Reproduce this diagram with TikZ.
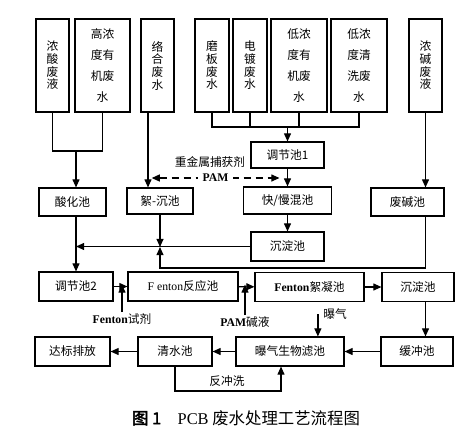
\documentclass[tikz,border=0pt]{standalone}
\usepackage{fontspec}
\setmainfont{Liberation Serif}
\newfontfamily\cjk{Noto Sans CJK SC}
\newfontfamily\cjkheavy[FakeBold=2.5]{Noto Sans CJK SC}
\usetikzlibrary{arrows.meta}
\tikzset{pool/.style = {draw, line width = 0.9pt, inner sep = 0,
                        font = \cjk\fontsize{10}{12}\selectfont}}
\tikzset{tall/.style = {pool, align = center, font = \cjk\fontsize{10}{10.8}\selectfont}}
\tikzset{wide/.style = {pool, align = center, font = \cjk\fontsize{10}{18}\selectfont}}
\tikzset{sz/.style 2 args = {minimum width = #1*0.3mm, minimum height = #2*0.3mm}}
\tikzset{wire/.style = {line width = 1.1pt}}
\tikzset{flow/.style = {wire, -{Triangle[length = 7pt, width = 6pt]}}}
\tikzset{dosing/.style = {wire, dash pattern = on 2.2mm off 1.4mm,
                          {Triangle[length = 7pt, width = 6pt]}-{Triangle[length = 7pt, width = 6pt]}}}
\tikzset{lbl/.style = {inner sep = 1pt, font = \cjk\fontsize{10}{12}\selectfont}}
\newcommand{\lat}[1]{{\rmfamily #1}}

\begin{document}
\begin{tikzpicture}[x = 0.3mm, y = -0.3mm]
    \useasboundingbox (0, 0) rectangle (474, 438);

    % sources
    \node [tall, sz = {33}{93}] (nsfy) at (52.5, 65.5) {浓\\酸\\废\\液};
    \node [wide, sz = {55}{93}] (gnd) at (102.5, 65.5) {高浓\\度有\\机废\\水};
    \node [tall, sz = {33}{93}] (lh) at (157.5, 65.5) {络\\合\\废\\水};
    \node [tall, sz = {34}{93}] (mb) at (212, 65.5) {磨\\板\\废\\水};
    \node [tall, sz = {34}{93}] (dd) at (250, 65.5) {电\\镀\\废\\水};
    \node [wide, sz = {56}{93}] (ddy) at (299, 65.5) {低浓\\度有\\机废\\水};
    \node [wide, sz = {56}{93}] (dqx) at (359, 65.5) {低浓\\度清\\洗废\\水};
    \node [tall, sz = {33}{93}] (njy) at (425.5, 65.5) {浓\\碱\\废\\液};

    % pretreatment
    \node [pool, sz = {73}{26}] (tj1) at (287.5, 155) {调节池1};
    \node [pool, sz = {67}{28}] (shc) at (72.5, 202) {酸化池};
    \node [pool, sz = {66}{26}] (xc) at (160, 201) {絮-沉池};
    \node [pool, sz = {88}{27}] (kmh) at (287.5, 200.5) {快/慢混池};
    \node [pool, sz = {73}{28}] (fjc) at (407.5, 202) {废碱池};
    \node [pool, sz = {73}{29}] (cd1) at (287.5, 246.5) {沉淀池};

    % Fenton line
    \node [pool, sz = {74}{29}] (tj2) at (76, 286.5) {调节池2};
    \node [pool, sz = {110}{29}] (fr) at (183, 286.5) {\lat{F enton}反应池};
    \node [pool, sz = {109}{29}] (fx) at (309.5, 287) {\lat{\bfseries Fenton}絮凝池};
    \node [pool, sz = {72}{29}] (cd2) at (418, 287) {沉淀池};

    % biological line
    \node [pool, sz = {75}{29}] (dbpf) at (72.5, 351.5) {达标排放};
    \node [pool, sz = {74}{29}] (qs) at (175, 351.5) {清水池};
    \node [pool, sz = {108}{29}] (pq) at (290, 351.5) {曝气生物滤池};
    \node [pool, sz = {72}{29}] (hc) at (417, 351.5) {缓冲池};

    % dosing labels
    \node [lbl] (zjs) at (210, 162) {重金属捕获剂};
    \node [lbl] (fsj) at (122, 319) {\lat{\bfseries Fenton}试剂};
    \node [lbl] (pamj) at (245, 322) {\lat{\bfseries PAM}碱液};
    \node [lbl] (bq) at (335, 314) {曝气};
    \node [lbl] (fcx) at (227, 381) {反冲洗};

    \coordinate (m1) at (76, 151);
    \coordinate (m2) at (287.5, 127);
    \coordinate (d1) at (148, 178);
    \coordinate (d2) at (287.5, 178);
    \coordinate (j) at (160, 247);
    \coordinate (lowbus) at (160, 268);
    \coordinate (bw) at (281, 391);

    % into the pretreatment tanks
    \draw [wire] (nsfy.south) |- (m1) -| (gnd.south);
    \draw [flow] (m1) -- (m1 |- shc.north);
    \draw [flow] ([xshift = -2.85mm]lh.south) -- ([xshift = -2.85mm]lh.south |- xc.north);
    \draw [wire] (mb.south) |- (dqx.south |- m2) -- (dqx.south);
    \draw [wire] (dd.south) -- (dd.south |- m2);
    \draw [wire] (ddy.south) -- (ddy.south |- m2);
    \draw [flow] (m2) -- (tj1.north);
    \draw [flow] (njy.south) -- (njy.south |- fjc.north);
    \draw [flow] (tj1) -- (kmh);
    \draw [flow] (kmh) -- (cd1);
    \draw [dosing] ([xshift = 1.1mm]d1) -- node [lbl, fill = white, inner xsep = 4pt] {\lat{\bfseries PAM}}
        ([xshift = -2.4mm]d2);

    % to 调节池2
    \draw [flow] (shc.south -| m1) -- (tj2.north);
    \draw [flow] (cd1.west) -- (cd1.west -| m1);
    \draw [flow] (xc.south) -- (j);
    \draw [flow] (fjc.south -| njy.south) |- (lowbus) -- (j);

    % Fenton line
    \draw [flow] (tj2) -- (fr);
    \draw [flow] (fr) -- (fx);
    \draw [flow] (fx) -- (cd2);
    \draw [flow] (fsj.north) -- ([yshift = 0.6mm]fsj.north |- tj2.east);
    \draw [flow] (pamj.north) -- ([yshift = 0.6mm]pamj.north |- fr.east);
    \draw [flow] (cd2.south -| njy.south) -- (hc.north -| njy.south);

    % biological line
    \draw [flow] (hc) -- (pq);
    \draw [flow] (pq) -- (qs);
    \draw [flow] (qs) -- (dbpf);
    \draw [flow] ([xshift = -1.2mm]bq.west) -- ([xshift = -1.2mm]bq.west |- pq.north);
    \draw [flow] (qs.south) |- (bw) -- (bw |- pq.south);

    \node [font = \cjk\fontsize{14}{16}\selectfont] (cap) at (246, 418)
        {{\cjkheavy 图 1}\quad \lat{PCB} 废水处理工艺流程图};
\end{tikzpicture}
\end{document}
